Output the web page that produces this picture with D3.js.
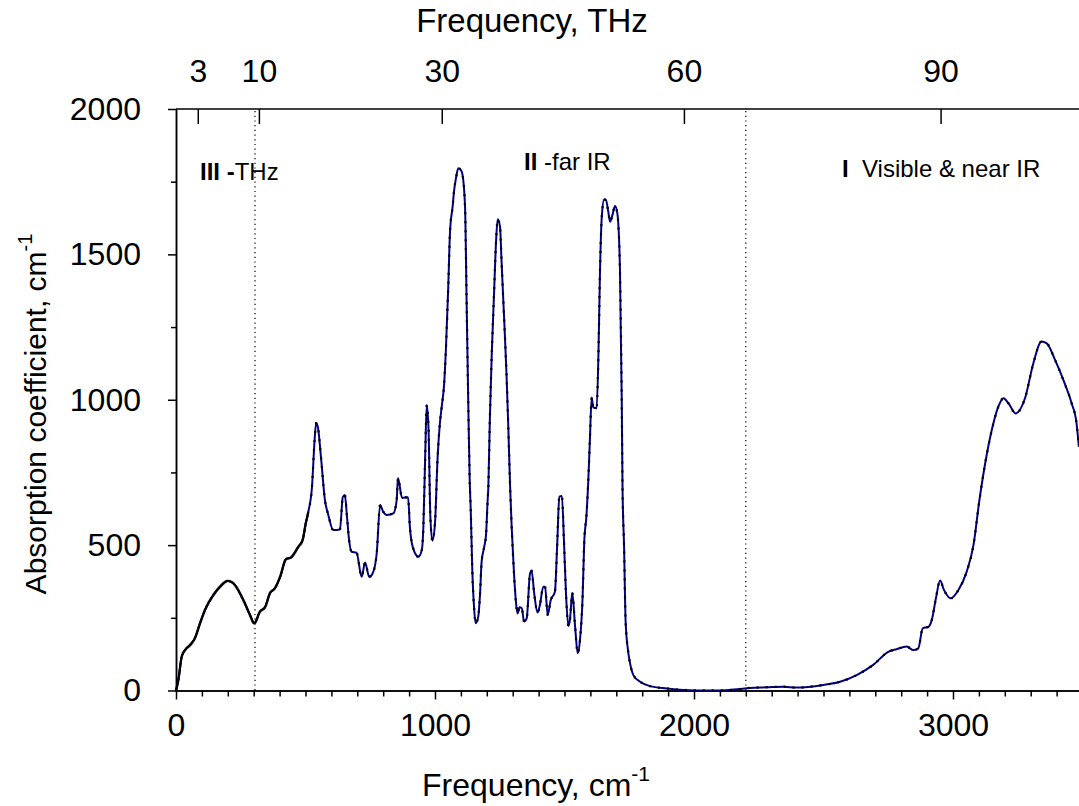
<!DOCTYPE html>
<html>
<head>
<meta charset="utf-8">
<script src="https://cdn.jsdelivr.net/npm/d3@7"></script>
<style>
body { margin: 0; background: #fff; }
text { font-family: "Liberation Sans", Arial, sans-serif; fill: #000; }
.axis path, .axis line { stroke: #000; stroke-width: 1.5; }
</style>
</head>
<body>
<div id="chart"></div>
<script>
// spectrum: wavenumber (cm-1) and absorption (cm-1)
var wavenumber = [0, 9, 22, 35, 54, 73, 93, 112, 144, 170, 200, 221, 260, 286, 302, 324, 344, 363, 382, 402,
  425, 443, 472, 489, 501, 511, 525, 535, 541, 548, 560, 575, 588, 607, 633, 644, 652, 660, 668, 678,
  697, 717, 730, 746, 762, 775, 788, 800, 814, 839, 852, 857, 873, 896, 903, 914, 936, 949, 955, 962,
  968, 975, 982, 990, 1000, 1010, 1019, 1026, 1035, 1042, 1051, 1058, 1068, 1074, 1081, 1090, 1100, 1106, 1116, 1122,
  1129, 1134, 1138, 1144, 1151, 1157, 1167, 1174, 1180, 1190, 1197, 1203, 1206, 1212, 1219, 1228, 1236, 1242, 1251, 1257,
  1266, 1276, 1283, 1290, 1296, 1305, 1313, 1319, 1326, 1335, 1344, 1354, 1367, 1373, 1383, 1396, 1405, 1418, 1425, 1435,
  1447, 1463, 1472, 1480, 1490, 1498, 1506, 1515, 1521, 1530, 1541, 1551, 1560, 1570, 1576, 1585, 1592, 1598, 1605, 1611,
  1624, 1631, 1637, 1644, 1653, 1660, 1669, 1676, 1685, 1695, 1704, 1714, 1721, 1724, 1730, 1736, 1746, 1753, 1766, 1792,
  1830, 1895, 1959, 2050, 2100, 2165, 2216, 2280, 2345, 2396, 2499, 2564, 2628, 2692, 2750, 2782, 2821, 2847, 2866, 2883,
  2905, 2918, 2934, 2950, 2965, 2991, 3021, 3053, 3079, 3102, 3130, 3156, 3175, 3195, 3214, 3242, 3278, 3310, 3342, 3362,
  3394, 3426, 3458, 3477, 3486];
var absorption = [0, 36, 116, 139, 156, 180, 232, 277, 328, 357, 377, 369, 311, 259, 231, 271, 287, 335, 352, 391,
  452, 457, 494, 518, 575, 615, 700, 860, 920, 905, 800, 655, 604, 552, 554, 665, 672, 600, 520, 477,
  474, 391, 440, 391, 409, 472, 638, 615, 604, 609, 655, 731, 662, 665, 563, 494, 460, 483, 560, 800,
  982, 900, 600, 515, 576, 800, 920, 976, 1051, 1171, 1383, 1578, 1664, 1721, 1762, 1796, 1790, 1775, 1664, 1343,
  959, 724, 621, 414, 283, 231, 254, 334, 443, 494, 535, 650, 701, 942, 1154, 1366, 1549, 1621, 1595, 1475,
  1297, 1091, 907, 701, 563, 403, 300, 265, 286, 283, 237, 248, 403, 412, 334, 268, 294, 357, 357, 260,
  311, 340, 506, 667, 669, 512, 328, 222, 243, 336, 219, 128, 176, 323, 506, 604, 724, 862, 1008, 974,
  971, 1154, 1440, 1630, 1689, 1687, 1647, 1612, 1635, 1666, 1641, 1452, 999, 700, 495, 237, 133, 94, 53, 30,
  15, 7, 2, 0, 0, 4, 9, 11, 13, 10, 19, 30, 53, 88, 133, 142, 151, 139, 145, 214,
  219, 242, 317, 378, 346, 317, 346, 409, 500, 655, 810, 919, 976, 1005, 988, 953, 1005, 1125, 1200, 1194,
  1137, 1068, 988, 919, 838];

var cmTicks = [0, 1000, 2000, 3000];
var absTicks = [0, 500, 1000, 1500, 2000];
var thzLabels = ["3", "10", "30", "60", "90"];
var thzAtCm = [86, 322, 1028, 1963, 2954];
var regionBounds = [305, 2200];

var width = 1079,
    height = 806;
var svg = d3.select("#chart")
    .append("svg")
    .attr("width", width)
    .attr("height", height);

var x = d3.scaleLinear().domain([0, 3500]).range([176, 1082.5]);
var y = d3.scaleLinear().domain([0, 2000]).range([690.5, 109]);

// minor ticks first, then the labelled axes over them
svg.append("g")
    .attr("class", "axis")
    .attr("transform", "translate(0," + y(0) + ")")
    .call(d3.axisBottom(x)
      .tickValues(d3.range(100, 3500, 100).filter(function(d) { return d % 1000 !== 0; }))
      .tickSize(6).tickSizeOuter(0).tickFormat(""));
svg.append("g")
    .attr("class", "axis")
    .attr("transform", "translate(" + x(0) + ",0)")
    .call(d3.axisLeft(y)
      .tickValues(d3.range(250, 2000, 500))
      .tickSize(5).tickSizeOuter(0).tickFormat(""));

var xAxis = svg.append("g")
    .attr("class", "axis")
    .attr("transform", "translate(0," + y(0) + ")")
    .call(d3.axisBottom(x).tickValues(cmTicks).tickFormat(d3.format("d"))
      .tickSize(9).tickSizeOuter(0).tickPadding(14));
xAxis.selectAll("text").style("font-size", "32px");

var yAxis = svg.append("g")
    .attr("class", "axis")
    .attr("transform", "translate(" + x(0) + ",0)")
    .call(d3.axisLeft(y).tickValues(absTicks).tickFormat(d3.format("d"))
      .tickSize(8).tickSizeOuter(0).tickPadding(27));
yAxis.selectAll("text").style("font-size", "32px");

// top frequency axis in THz
svg.append("line")
    .attr("x1", x(0)).attr("x2", width)
    .attr("y1", y(2000)).attr("y2", y(2000))
    .attr("stroke", "#000").attr("stroke-width", 1.5);
svg.append("g").selectAll("line")
    .data(thzAtCm)
    .enter().append("line")
    .attr("x1", function(d) { return x(d); })
    .attr("x2", function(d) { return x(d); })
    .attr("y1", y(2000))
    .attr("y2", y(2000) + 15)
    .attr("stroke", "#000").attr("stroke-width", 1.5);
svg.append("g").selectAll("text")
    .data(thzLabels)
    .enter().append("text")
    .attr("x", function(d, i) { return x(thzAtCm[i]); })
    .attr("y", 82)
    .attr("text-anchor", "middle")
    .style("font-size", "32px")
    .text(function(d) { return d; });

// region borders
svg.append("g").selectAll("line")
    .data(regionBounds)
    .enter().append("line")
    .attr("x1", function(d) { return x(d); })
    .attr("x2", function(d) { return x(d); })
    .attr("y1", y(2000) + 2)
    .attr("y2", y(0))
    .attr("stroke", "#000")
    .attr("stroke-width", 1.2)
    .attr("stroke-dasharray", "1.2,3.5");

var pts = wavenumber.map(function(d, i) { return [d, absorption[i]]; });
var line = d3.line()
    .x(function(d) { return x(d[0]); })
    .y(function(d) { return y(d[1]); })
    .curve(d3.curveMonotoneX);
var curve = svg.append("path")
    .datum(pts)
    .attr("fill", "none")
    .attr("stroke", "#000080")
    .attr("stroke-width", 2)
    .attr("d", line);

// little black point markers along the trace, packed tight at low frequency
var node = curve.node(),
    total = node.getTotalLength(),
    marks = [],
    s = 0;
while (s <= total) {
  var p = node.getPointAtLength(s);
  marks.push(p);
  s += p.x < x(510) ? 1.5 : 9;
}
svg.append("g").selectAll("rect")
    .data(marks)
    .enter().append("rect")
    .attr("x", function(d) { return d.x - 1.1; })
    .attr("y", function(d) { return d.y - 1.1; })
    .attr("width", 2.2)
    .attr("height", 2.2)
    .attr("fill", "#000");

// axis titles
svg.append("text")
    .attr("x", 532).attr("y", 32)
    .attr("text-anchor", "middle")
    .style("font-size", "33px")
    .text("Frequency, THz");

var xt = svg.append("text")
    .attr("x", 536).attr("y", 796)
    .attr("text-anchor", "middle")
    .style("font-size", "32px");
xt.append("tspan").text("Frequency, cm");
xt.append("tspan").attr("dy", -15).style("font-size", "21px").text("-1");

var yt = svg.append("text")
    .attr("transform", "translate(46,414) rotate(-90)")
    .attr("text-anchor", "middle")
    .style("font-size", "30px");
yt.append("tspan").text("Absorption coefficient, cm");
yt.append("tspan").attr("dy", -14).style("font-size", "20px").text("-1");

// region labels
var notes = [
  {x: 200, y: 180, bold: "III -", plain: "THz"},
  {x: 524, y: 170, bold: "II", plain: " -far IR"},
  {x: 842, y: 177, bold: "I", plain: "  Visible & near IR"}
];
notes.forEach(function(n) {
  var t = svg.append("text")
      .attr("x", n.x).attr("y", n.y)
      .style("font-size", "24px")
      .attr("xml:space", "preserve")
      .style("white-space", "pre");
  t.append("tspan").style("font-weight", "bold").text(n.bold);
  t.append("tspan").text(n.plain);
});
</script>
</body>
</html>
